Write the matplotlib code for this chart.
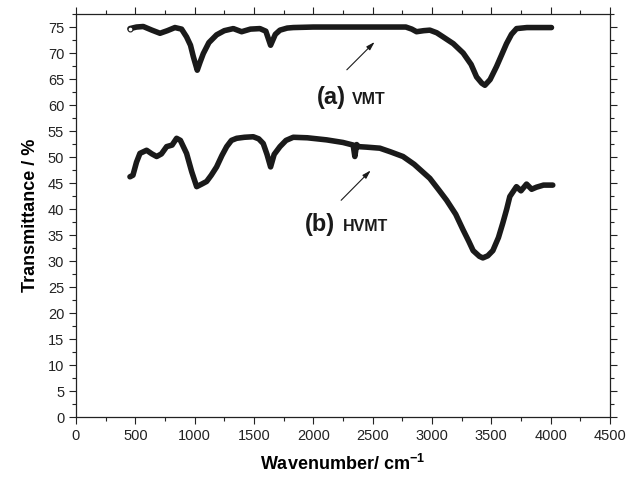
import matplotlib.pyplot as plt
from matplotlib.ticker import MultipleLocator

plt.rcParams["font.family"] = ["Liberation Sans", "DejaVu Sans"]
plt.rcParams["mathtext.fontset"] = "custom"
plt.rcParams["mathtext.bf"] = "Liberation Sans:bold"
plt.rcParams["mathtext.rm"] = "Liberation Sans"

# FTIR spectra, transmittance (%) vs wavenumber (cm-1)
wn_vmt = [455, 510, 567, 640, 708, 770, 834, 890, 932, 965, 989, 1022, 1045, 1073,
          1120, 1185, 1250, 1326, 1396, 1470, 1550, 1600, 1640, 1680, 1719, 1780,
          1831, 2000, 2400, 2780, 2830, 2870, 2930, 2982, 3040, 3094, 3180, 3263,
          3330, 3376, 3420, 3446, 3490, 3544, 3590, 3628, 3670, 3713, 3800, 4007]
tr_vmt = [74.7, 75.0, 75.1, 74.4, 73.8, 74.3, 74.9, 74.6, 73.1, 71.5, 69.3, 66.7, 68.2, 69.9,
          72.0, 73.5, 74.3, 74.7, 74.1, 74.6, 74.7, 74.2, 71.5, 73.6, 74.4, 74.8,
          74.9, 75.0, 75.0, 75.0, 74.6, 74.1, 74.3, 74.4, 73.9, 73.1, 71.8, 70.0,
          67.8, 65.4, 64.2, 63.8, 64.9, 67.4, 69.8, 71.8, 73.6, 74.7, 74.9, 74.9]

wn_hvmt = [455, 480, 510, 539, 595, 640, 680, 720, 764, 810, 848, 880, 932, 975,
           1017, 1060, 1101, 1140, 1185, 1230, 1270, 1310, 1354, 1420, 1494, 1540,
           1578, 1610, 1640, 1670, 1719, 1770, 1831, 1950, 2112, 2250, 2336, 2350,
           2365, 2380, 2450, 2561, 2650, 2756, 2850, 2982, 3060, 3123, 3200, 3262,
           3310, 3347, 3400, 3429, 3470, 3513, 3560, 3597, 3630, 3656, 3712, 3750,
           3797, 3840, 3881, 3940, 4018]
tr_hvmt = [46.2, 46.5, 49.0, 50.7, 51.3, 50.6, 50.1, 50.6, 52.0, 52.3, 53.6, 53.2, 50.7, 47.2,
           44.3, 44.8, 45.3, 46.5, 48.1, 50.3, 52.0, 53.2, 53.6, 53.8, 53.9, 53.5,
           52.6, 50.5, 48.1, 50.5, 52.0, 53.2, 53.8, 53.7, 53.3, 52.8, 52.3, 50.1,
           52.4, 52.0, 51.9, 51.7, 51.0, 50.1, 48.6, 45.9, 43.6, 41.7, 39.0, 36.0,
           33.8, 32.0, 30.9, 30.6, 31.0, 32.0, 34.5, 37.3, 40.0, 42.4, 44.3, 43.5,
           44.8, 43.8, 44.2, 44.6, 44.6]

tags = ["(a)", "(b)"]
names = ["VMT", "HVMT"]

fig = plt.figure(figsize=(6.3, 4.84), dpi=100)
ax = fig.add_axes([0.1206, 0.1384, 0.8476, 0.8326])

ink = "#1a1a1a"
ax.plot(wn_vmt, tr_vmt, color=ink, lw=4, solid_joinstyle="round", solid_capstyle="round")
ax.plot(wn_hvmt, tr_hvmt, color=ink, lw=4, solid_joinstyle="round", solid_capstyle="round")
ax.plot(wn_vmt[0], tr_vmt[0], "o", ms=3.5, mfc="white", mec=ink, mew=0.8)

ax.set_xlim(0, 4500)
ax.set_ylim(0, 77.5)
ax.xaxis.set_major_locator(MultipleLocator(500))
ax.xaxis.set_minor_locator(MultipleLocator(250))
ax.yaxis.set_major_locator(MultipleLocator(5))
ax.yaxis.set_minor_locator(MultipleLocator(2.5))
ax.tick_params(which="both", direction="out", top=True, right=True, width=0.8,
               labelsize=10.5, colors="#222222")
ax.tick_params(which="major", length=5)
ax.tick_params(which="minor", length=3)
for s in ax.spines.values():
    s.set_linewidth(0.9)
    s.set_color("#222222")

ax.set_xlabel("Wavenumber/ cm$^{\\mathbf{-1}}$", fontsize=13, fontweight="bold", labelpad=8)
ax.set_ylabel("Transmittance / %", fontsize=13, fontweight="bold", labelpad=6)

# sample labels with arrows pointing at the curves
arrow = dict(arrowstyle="-|>,head_length=0.5,head_width=0.15", lw=0.8, color=ink)
ax.annotate("", xy=(2533, 72.5), xytext=(2266, 66.4), arrowprops=arrow)
ax.annotate("", xy=(2500, 47.8), xytext=(2218, 41.3), arrowprops=arrow)

ax.text(2030, 61.4, tags[0], fontsize=17, fontweight="bold", color=ink, va="center")
ax.text(2325, 61.0, names[0], fontsize=11.5, fontweight="bold", color=ink, va="center")
ax.text(1925, 37.0, tags[1], fontsize=17, fontweight="bold", color=ink, va="center")
ax.text(2245, 36.6, names[1], fontsize=11.5, fontweight="bold", color=ink, va="center")

fig.savefig("out.png", dpi=100)
